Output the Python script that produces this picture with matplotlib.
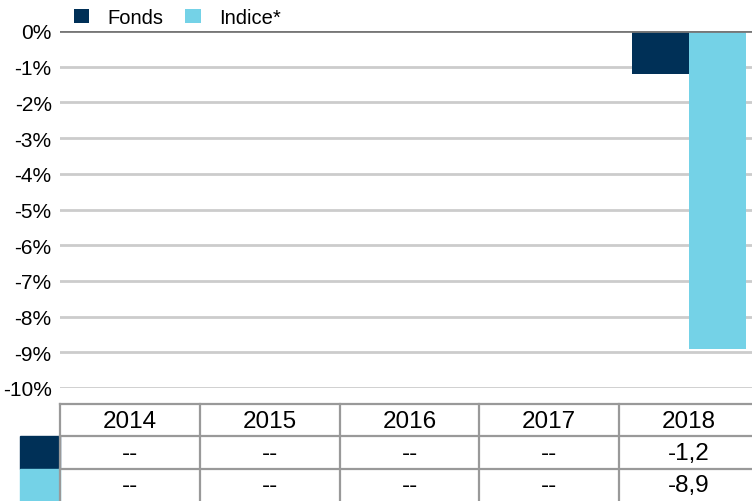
import matplotlib
matplotlib.use('Agg')
import matplotlib.pyplot as plt
from matplotlib.patches import Rectangle
import numpy as np

plt.rcParams['font.family'] = ['Liberation Sans', 'DejaVu Sans']

years = ['2014', '2015', '2016', '2017', '2018']
fonds = [np.nan, np.nan, np.nan, np.nan, -1.2]
indice = [np.nan, np.nan, np.nan, np.nan, -8.9]
fonds_labels = ['--', '--', '--', '--', '-1,2']
indice_labels = ['--', '--', '--', '--', '-8,9']

navy = '#003057'
cyan = '#74d2e7'
W, H = 752, 502

fig = plt.figure(figsize=(7.52, 5.02), dpi=100)
# plot area in pixels: x 60..759, y 32..389
ax = fig.add_axes([60 / W, 1 - 389 / H, 699 / W, 357 / H])
x = np.arange(len(years))
width = 0.405
ax.bar(x - width / 2, fonds, width, color=navy, label='Fonds', zorder=3)
ax.bar(x + width / 2, indice, width, color=cyan, label='Indice*', zorder=3)
ax.set_xlim(-0.5, 4.5)
ax.set_ylim(-10, 0)
ax.set_yticks(np.arange(-10, 1, 1))
ax.set_yticklabels([f'{v}%' for v in range(-10, 1)], fontsize=15)
ax.tick_params(axis='y', length=0, pad=6)
ax.set_xticks([])
for s in ax.spines.values():
    s.set_visible(False)
for v in range(-10, 0):
    ax.axhline(v, color='#cccccc', lw=2, zorder=1)
ax.axhline(0, color='#777777', lw=2, zorder=4)

leg = fig.legend(loc='upper left', bbox_to_anchor=(60 / W, 1 + 5 / H), ncol=2, frameon=False,
                 fontsize=14.5, handlelength=0.75, handleheight=0.75, handletextpad=0.9,
                 columnspacing=1.1, borderpad=0.2)

# table below the chart
tax = fig.add_axes([60 / W, 0, 699 / W, (502 - 405) / H])
tax.set_xlim(-0.5, 4.5)
tax.set_ylim(3, 0)
tax.axis('off')
grey = '#999999'
for xv in np.arange(-0.5, 5, 1):
    tax.plot([xv, xv], [0, 3], color=grey, lw=1.6, clip_on=False)
for yv in [0, 1, 2]:
    tax.plot([-0.5, 4.5], [yv, yv], color=grey, lw=1.6, clip_on=False)
for i, yr in enumerate(years):
    tax.text(i, 0.52, yr, ha='center', va='center', fontsize=17.5)
    tax.text(i, 1.52, fonds_labels[i], ha='center', va='center', fontsize=17.5)
    tax.text(i, 2.52, indice_labels[i], ha='center', va='center', fontsize=17.5)
x0 = (20 - 60) / 140 - 0.5
tax.add_patch(Rectangle((x0, 1), -0.5 - x0, 1, color=navy, clip_on=False))
tax.add_patch(Rectangle((x0, 2), -0.5 - x0, 1, color=cyan, clip_on=False))

plt.savefig('out.png', dpi=100)
